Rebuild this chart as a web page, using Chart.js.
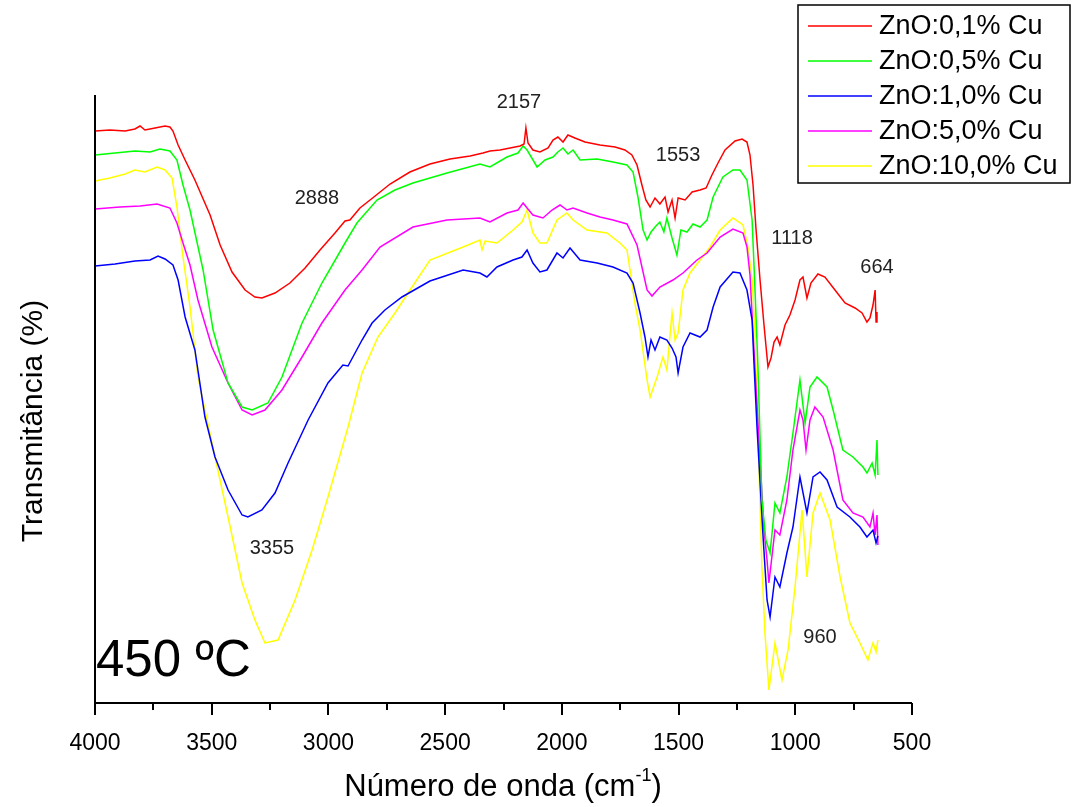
<!DOCTYPE html>
<html>
<head>
<meta charset="utf-8">
<script src="https://cdn.jsdelivr.net/npm/chart.js@4"></script>
<style>
  html, body { margin: 0; padding: 0; background: #fff; }
  #wrap { width: 1072px; height: 807px; position: relative; }
</style>
</head>
<body>
<div id="wrap"><canvas id="ftir"></canvas></div>
<script>
// FTIR spectra, ZnO:Cu films at 450 ºC (transmittance in arbitrary units)
const seriesLabels = ['ZnO:0,1% Cu', 'ZnO:0,5% Cu', 'ZnO:1,0% Cu', 'ZnO:5,0% Cu', 'ZnO:10,0% Cu'];
const seriesColors = ['#ff0000', '#00ff00', '#0000ff', '#ff00ff', '#ffff00'];
const xTicks = [4000, 3500, 3000, 2500, 2000, 1500, 1000, 500];

const wnRed = [4000,3936,3871,3829,3807,3786,3743,3700,3679,3666,3644,3614,3572,3507,3464,3413,3357,3315,3285,3229,
  3165,3100,3036,2972,2929,2908,2865,2800,2736,2651,2565,2479,2393,2338,2308,2265,2222,2179,2162,2154,
  2145,2124,2094,2059,2038,2017,1995,1974,1944,1901,1837,1772,1730,1700,1678,1657,1640,1622,1601,1580,
  1558,1545,1528,1515,1502,1472,1442,1408,1382,1357,1331,1301,1258,1228,1207,1194,1181,1168,1151,1134,
  1117,1104,1091,1078,1066,1044,1023,1001,980,967,950,933,903,873,830,787,744,714,693,680,667,658,654,650];
const tRed = [57.2,57.3,57.2,57.4,57.7,57.3,57.5,57.7,57.6,57.2,55.8,54.3,52.3,48.8,45.8,43.1,41.3,40.6,40.5,41.0,
  42.0,43.5,45.3,47.0,48.2,48.3,49.5,50.7,51.9,53.1,53.9,54.4,54.7,55.0,55.2,55.3,55.5,55.7,55.9,57.5,
  56.0,55.3,55.1,55.5,56.3,56.6,56.1,56.8,56.5,56.1,55.8,55.6,55.3,54.8,53.8,51.8,50.3,49.6,50.5,49.9,
  50.6,49.1,50.3,48.5,50.5,50.3,51.1,51.3,51.5,52.8,54.0,55.3,56.2,56.4,56.1,54.8,51.8,47.3,42.3,37.8,
  33.6,34.5,36.1,36.6,35.8,37.8,38.8,40.3,42.3,42.6,40.5,42.0,42.9,42.6,41.3,40.0,39.5,39.0,38.1,38.5,39.8,41.3,38.1,39.1];

const wnGreen = [4000,3914,3829,3764,3722,3679,3649,3623,3593,3537,3494,3430,3370,3327,3259,3199,3113,3028,2929,2878,
  2792,2715,2638,2492,2351,2308,2235,2188,2166,2149,2106,2072,2038,2017,1995,1974,1952,1922,1849,1781,
  1721,1695,1674,1652,1635,1618,1597,1580,1563,1550,1528,1507,1490,1464,1438,1408,1378,1352,1310,1267,
  1237,1207,1185,1173,1160,1143,1126,1108,1087,1066,1036,1010,980,958,937,907,864,838,796,753,710,693,671,658,650,646];
const tGreen = [54.8,55.0,55.2,55.1,55.4,55.2,54.3,51.8,49.3,43.3,37.3,32.0,29.6,29.3,30.0,32.6,38.0,42.0,46.0,48.0,
  50.3,51.3,52.0,53.0,53.9,53.6,54.6,55.0,55.7,55.3,53.6,54.3,54.6,55.1,55.5,54.9,55.3,54.3,54.4,54.1,
  53.8,53.1,50.6,47.3,46.3,47.1,47.7,48.1,47.1,48.5,46.5,44.8,47.3,47.1,47.9,47.6,48.3,50.6,52.6,53.3,
  53.3,52.3,48.3,41.6,33.6,20.3,16.3,15.0,20.0,19.0,22.6,27.0,32.3,28.0,31.6,32.6,31.6,29.3,25.3,24.6,23.6,23.0,24.0,22.8,26.3,22.8];

const wnBlue = [4000,3914,3829,3764,3730,3700,3666,3644,3614,3572,3529,3486,3430,3370,3345,3285,3229,3173,3087,3002,
  2938,2916,2856,2813,2758,2685,2565,2423,2351,2321,2278,2209,2171,2149,2124,2094,2064,2021,1995,1965,
  1922,1849,1781,1721,1695,1665,1644,1631,1618,1601,1580,1550,1528,1511,1502,1481,1451,1408,1378,1352,
  1322,1267,1237,1207,1185,1177,1164,1139,1121,1108,1087,1066,1036,1010,980,950,924,894,864,821,766,723,693,667,654,646];
const tBlue = [43.7,43.9,44.2,44.3,44.7,44.4,43.8,42.3,38.6,35.3,28.6,24.6,21.3,18.8,18.6,19.3,21.0,24.0,28.3,32.0,
  33.8,33.7,36.3,38.0,39.3,40.6,42.2,43.3,43.0,42.6,43.6,44.3,44.6,45.3,44.0,43.1,43.3,45.0,44.5,45.5,
  44.3,44.0,43.6,43.0,42.0,39.0,36.6,34.6,36.3,35.3,36.6,36.3,35.5,34.6,33.0,35.6,37.0,36.6,37.3,39.6,
  41.6,43.1,43.0,41.3,38.3,34.0,27.6,17.0,10.3,8.6,12.6,11.6,15.0,17.6,22.6,19.0,22.6,23.1,22.3,19.6,18.6,17.6,16.6,17.3,16.0,16.7];

const wnMagenta = [4000,3893,3807,3734,3679,3649,3623,3593,3559,3499,3430,3370,3327,3272,3199,3113,3028,2929,2856,2779,
  2638,2492,2351,2308,2235,2188,2166,2149,2124,2081,2042,2008,1978,1952,1892,1837,1781,1721,1678,1635,
  1614,1580,1524,1481,1421,1378,1322,1267,1224,1207,1194,1181,1151,1134,1121,1113,1087,1066,1036,1010,
  980,967,954,937,916,881,838,796,753,710,680,667,658,650,646];
const tMagenta = [49.4,49.6,49.7,49.9,49.5,48.0,46.0,43.8,40.3,35.6,32.0,29.3,28.8,29.3,31.3,34.6,38.0,41.3,43.3,45.6,
  47.6,48.3,48.5,48.1,49.0,49.3,50.0,49.5,48.8,48.5,49.3,49.8,49.3,49.5,49.0,48.6,48.3,47.9,45.8,41.3,
  40.7,41.6,42.3,43.0,44.3,45.0,46.6,47.4,47.0,45.6,42.8,37.0,24.3,17.3,14.3,12.0,17.3,16.8,20.3,25.3,
  29.3,28.3,25.3,28.3,29.6,28.6,25.3,20.3,19.0,18.6,17.6,19.0,16.8,18.8,15.8];

const wnYellow = [4000,3936,3871,3829,3786,3734,3700,3670,3649,3623,3593,3559,3529,3486,3430,3370,3315,3272,3216,3143,
  3070,3002,2916,2856,2788,2715,2659,2565,2423,2351,2342,2329,2278,2209,2171,2149,2124,2094,2064,2021,
  1978,1952,1892,1807,1751,1721,1708,1687,1665,1635,1622,1592,1567,1550,1528,1515,1502,1481,1451,1408,
  1365,1322,1267,1224,1203,1185,1173,1164,1143,1130,1113,1087,1057,1031,1001,971,950,924,894,851,808,766,723,689,667,654,646];
const tYellow = [52.2,52.5,52.9,53.3,53.1,53.6,53.3,52.5,49.6,44.6,39.6,32.6,29.3,24.6,18.6,12.0,8.3,6.0,6.3,10.3,
  15.3,20.6,27.6,33.0,36.6,39.0,41.0,44.3,45.6,46.3,45.3,46.2,46.0,47.3,48.1,49.3,47.0,46.0,46.0,48.3,
  49.0,48.3,47.3,47.0,46.0,45.3,43.3,40.0,37.3,32.3,30.6,32.6,34.6,33.3,39.0,36.3,37.0,41.3,43.0,44.3,
  45.6,47.3,48.5,47.8,45.6,42.3,37.3,30.3,13.6,7.0,1.3,6.0,2.3,5.3,11.6,19.3,12.6,19.0,21.0,18.3,12.6,8.0,6.0,4.3,6.0,5.1,6.3];

// peak labels placed in data units
const peakText = ['2157', '2888', '1553', '1118', '664', '3355', '960'];
const peakWn   = [2184, 3049, 1502, 1014, 650, 3242, 894];
const peakT    = [60.1, 50.5, 54.8, 46.5, 43.6, 15.5, 6.6];

const FONT = "'Liberation Sans', Arial, sans-serif";

function zip(xs, ys) {
  const n = Math.min(xs.length, ys.length);
  const pts = [];
  for (let i = 0; i < n; i++) pts.push({ x: xs[i], y: ys[i] });
  return pts;
}

const allX = [wnRed, wnGreen, wnBlue, wnMagenta, wnYellow];
const allY = [tRed, tGreen, tBlue, tMagenta, tYellow];

const datasets = seriesLabels.map((label, i) => ({
  label: label,
  data: zip(allX[i], allY[i]),
  borderColor: seriesColors[i],
  backgroundColor: seriesColors[i],
  borderWidth: 1.5,
  pointRadius: 0,
  tension: 0,
  fill: false
}));

// axes, titles, peak labels and legend are drawn by hand
const decorations = {
  id: 'decorations',
  afterDraw(chart) {
    const ctx = chart.ctx;
    const area = chart.chartArea;
    const xs = chart.scales.x;
    const ys = chart.scales.y;
    ctx.save();

    // axis lines
    ctx.strokeStyle = '#000';
    ctx.lineWidth = 2;
    ctx.beginPath();
    ctx.moveTo(area.left, area.top);
    ctx.lineTo(area.left, area.bottom);
    ctx.lineTo(area.right, area.bottom);
    ctx.stroke();

    // major and minor ticks
    for (let v = 500; v <= 4000; v += 250) {
      const px = Math.round(xs.getPixelForValue(v));
      const len = v % 500 === 0 ? 12 : 7;
      ctx.beginPath();
      ctx.moveTo(px, area.bottom);
      ctx.lineTo(px, area.bottom + len);
      ctx.stroke();
    }

    ctx.fillStyle = '#000';

    // y title
    ctx.save();
    ctx.translate(34, 421);
    ctx.rotate(-Math.PI / 2);
    ctx.font = '30px ' + FONT;
    ctx.textAlign = 'center';
    ctx.textBaseline = 'middle';
    ctx.fillText('Transmitância (%)', 0, 0);
    ctx.restore();

    // x title with superscript
    const main = 'Número de onda (cm';
    const sup = '-1';
    const tail = ')';
    ctx.font = '31px ' + FONT;
    const wMain = ctx.measureText(main).width;
    const wTail = ctx.measureText(tail).width;
    ctx.font = '18px ' + FONT;
    const wSup = ctx.measureText(sup).width;
    const total = wMain + wSup + wTail;
    let tx = 503 - total / 2;
    const base = 796;
    ctx.textAlign = 'left';
    ctx.textBaseline = 'alphabetic';
    ctx.font = '31px ' + FONT;
    ctx.fillText(main, tx, base);
    tx += wMain;
    ctx.font = '18px ' + FONT;
    ctx.fillText(sup, tx, base - 15);
    tx += wSup;
    ctx.font = '31px ' + FONT;
    ctx.fillText(tail, tx, base);

    // peak labels
    ctx.font = '20px ' + FONT;
    ctx.fillStyle = '#222';
    ctx.textAlign = 'center';
    ctx.textBaseline = 'middle';
    peakText.forEach((t, i) => {
      ctx.fillText(t, xs.getPixelForValue(peakWn[i]), ys.getPixelForValue(peakT[i]));
    });

    // temperature tag
    ctx.fillStyle = '#000';
    ctx.font = '51px ' + FONT;
    ctx.textAlign = 'left';
    ctx.textBaseline = 'alphabetic';
    ctx.fillText('450 ºC', area.left + 1, area.bottom - 27);

    // legend box
    const lx = 798, ly = 5, lw = 272, lh = 178;
    ctx.fillStyle = '#fff';
    ctx.fillRect(lx, ly, lw, lh);
    ctx.strokeStyle = '#000';
    ctx.lineWidth = 1.5;
    ctx.strokeRect(lx, ly, lw, lh);
    ctx.font = '27px ' + FONT;
    ctx.textBaseline = 'middle';
    chart.data.datasets.forEach((ds, i) => {
      const cy = 26 + i * 35;
      ctx.strokeStyle = ds.borderColor;
      ctx.lineWidth = 1.5;
      ctx.beginPath();
      ctx.moveTo(808, cy);
      ctx.lineTo(872, cy);
      ctx.stroke();
      ctx.fillStyle = '#000';
      ctx.fillText(ds.label, 879, cy + 1);
    });

    ctx.restore();
  }
};

new Chart(document.getElementById('ftir'), {
  type: 'line',
  data: { datasets: datasets },
  options: {
    responsive: true,
    maintainAspectRatio: false,
    animation: false,
    layout: { padding: { left: 95, top: 95, right: 160, bottom: 0 } },
    plugins: {
      legend: { display: false },
      tooltip: { enabled: false }
    },
    scales: {
      x: {
        type: 'linear',
        reverse: true,
        min: 500,
        max: 4000,
        grid: { display: false },
        border: { display: false },
        afterFit(scale) { scale.height = 104; },
        afterBuildTicks(scale) { scale.ticks = xTicks.map(v => ({ value: v })); },
        ticks: {
          color: '#000',
          padding: 19,
          maxRotation: 0,
          autoSkip: false,
          font: { family: FONT, size: 23 },
          callback: v => String(v)
        }
      },
      y: {
        type: 'linear',
        min: 0,
        max: 60.8,
        display: false
      }
    }
  },
  plugins: [decorations]
});
</script>
</body>
</html>
